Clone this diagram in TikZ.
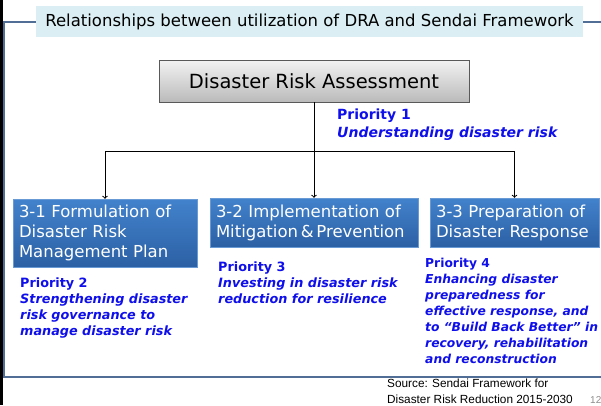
\documentclass[tikz,border=0pt]{standalone}
\usepackage{fontspec}
\setmainfont{DejaVu Sans}
\newfontfamily\srcfont{Liberation Sans}
\usetikzlibrary{calc}

\definecolor{framecol}{RGB}{80,110,150}
\definecolor{headfill}{RGB}{218,238,243}
\definecolor{prioblue}{RGB}{15,15,235}
\definecolor{boxtop}{RGB}{66,130,204}
\definecolor{boxbot}{RGB}{44,96,164}

\tikzset{
  headbox/.style={fill=headfill, minimum width=547pt, minimum height=31pt, inner sep=0pt,
    font=\fontsize{16.5}{19}\selectfont},
  drabox/.style={draw=black!65, top color=black!5, bottom color=black!27, minimum width=310pt,
    minimum height=42pt, font=\fontsize{19.5}{22}\selectfont},
  bluebox/.style={top color=boxtop, bottom color=boxbot, draw=boxtop!80!white, text=white,
    align=left, inner sep=6pt, font=\fontsize{16.5}{20}\selectfont},
  prio/.style={text=prioblue, align=left, anchor=north west, inner sep=0pt,
    font=\bfseries\itshape\fontsize{12.8}{16}\selectfont},
  link/.style={->, line width=1pt},
}

\begin{document}
\begin{tikzpicture}[x=1pt,y=-1pt]
  \useasboundingbox (0,0) rectangle (601,405);
  \fill (0,0) rectangle (2.7,405); % left edge bar
  \draw[framecol, line width=1.5pt] (610,22) -- (4,22) -- (4,377) -- (610,377); % slide frame

  \node[headbox] (head) at (309.5,21.5) {Relationships between utilization of DRA and Sendai Framework};
  \node[drabox] (dra) at (314,81) {Disaster Risk Assessment};

  \node[bluebox, text width=172pt, minimum height=68pt] (plan) at (105,233)
    {3-1 Formulation of\\Disaster Risk\\Management Plan};
  \node[bluebox, text width=196pt, minimum height=49pt] (mitig) at (314,222.5)
    {3-2 Implementation of\\Mitigation\,\&\,Prevention};
  \node[bluebox, text width=157pt, minimum height=49pt] (resp) at (514.5,222.5)
    {3-3 Preparation of\\Disaster Response};

  \coordinate (split) at (314,151); % branch point
  \draw[link] (dra.south) -- (mitig.north);
  \draw[link] (split) -| (plan.north);
  \draw[link] (split) -| (resp.north);

  \node[prio, font=\bfseries\itshape\fontsize{14}{18}\selectfont] (p1) at (337,108.5)
    {{\upshape Priority 1}\\Understanding disaster risk};
  \node[prio] (p2) at (20,277.5)
    {{\upshape Priority 2}\\Strengthening disaster\\risk governance to\\manage disaster risk};
  \node[prio] (p3) at (218,261.5)
    {{\upshape Priority 3}\\Investing in disaster risk\\reduction for resilience};
  \node[prio, font=\bfseries\itshape\fontsize{12.3}{16}\selectfont] (p4) at (425,257.5)
    {{\upshape Priority 4}\\Enhancing disaster\\preparedness for\\effective response, and\\to “Build Back Better” in\\recovery, rehabilitation\\and reconstruction};

  \node[anchor=north west, inner sep=0pt, align=left, font=\srcfont\fontsize{11.8}{16}\selectfont] (src)
    at (387,379) {Source: Sendai Framework for\\Disaster Risk Reduction 2015-2030};
  \node[anchor=base west, inner sep=0pt, text=black!45, font=\srcfont\fontsize{10}{12}\selectfont] (pg)
    at (590,403.5) {12};
\end{tikzpicture}
\end{document}
